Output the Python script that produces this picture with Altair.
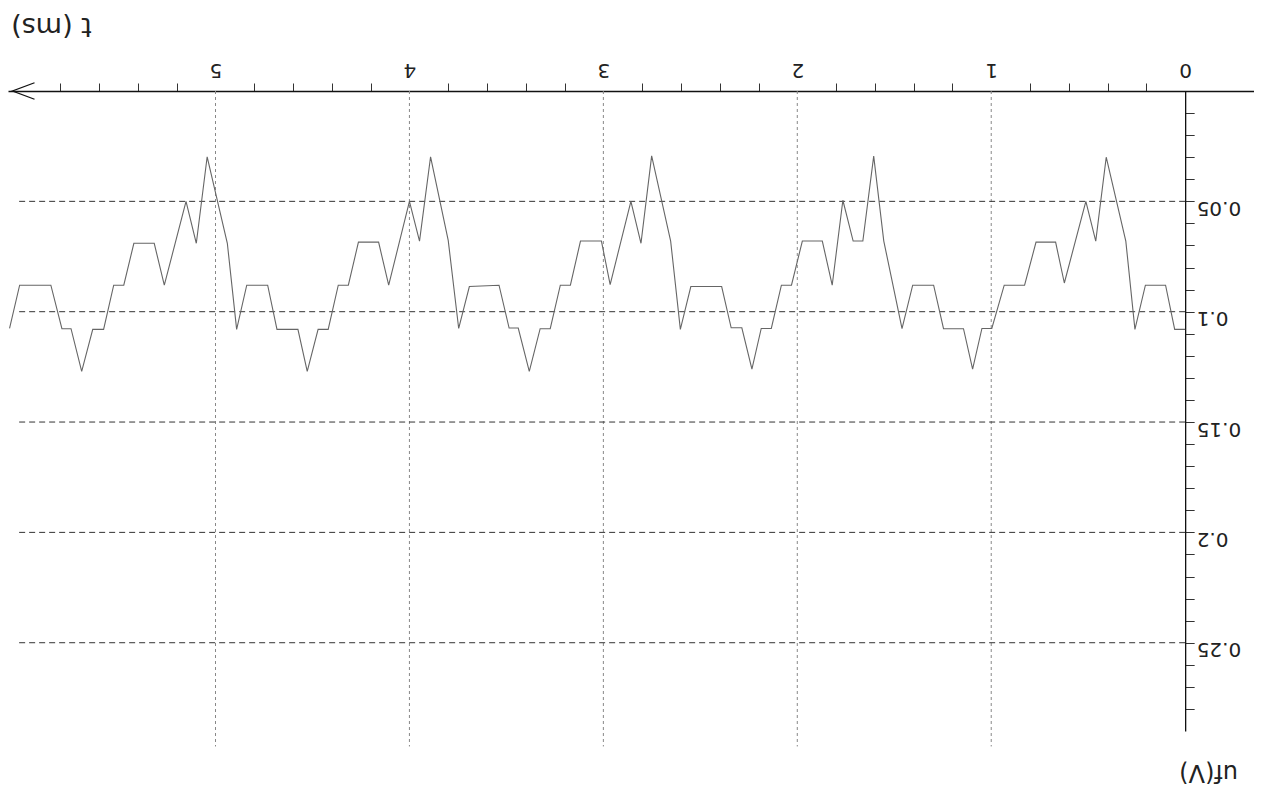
import altair as alt
import pandas as pd

# waveform read from the (upside-down) oscillogram: t in ms, u in V
t_ms = [0.0, 0.054, 0.101, 0.205, 0.259, 0.306, 0.407, 0.461, 0.512, 0.623, 0.668, 0.769, 0.828, 0.933, 0.997, 1.048, 1.096,
        1.143, 1.246, 1.297, 1.405, 1.460, 1.554, 1.606, 1.662, 1.712, 1.765, 1.820, 1.871, 1.974, 2.030, 2.082, 2.134, 2.186, 2.234, 2.286, 2.341,
        2.390, 2.549, 2.603, 2.653, 2.751, 2.806, 2.858, 2.965, 3.010, 3.118, 3.170, 3.222, 3.274, 3.326, 3.382, 3.439, 3.486, 3.538,
        3.691, 3.746, 3.800, 3.891, 3.948, 4.000, 4.107, 4.159, 4.263, 4.315, 4.367, 4.419, 4.471, 4.527, 4.575, 4.683, 4.731, 4.839,
        4.891, 4.939, 5.043, 5.099, 5.152, 5.264, 5.316, 5.421, 5.473, 5.525, 5.577, 5.633, 5.690, 5.745, 5.792, 5.849, 6.010, 6.062]
u_v = [0.108, 0.108, 0.088, 0.088, 0.108, 0.068, 0.030, 0.068, 0.050, 0.087, 0.0685, 0.0685, 0.088, 0.088, 0.1076, 0.1076, 0.126,
       0.1077, 0.1077, 0.088, 0.088, 0.1077, 0.068, 0.0295, 0.068, 0.068, 0.0495, 0.088, 0.068, 0.068, 0.088, 0.088, 0.1076, 0.1076, 0.126, 0.1073, 0.1073,
       0.0886, 0.0886, 0.108, 0.068, 0.0294, 0.069, 0.050, 0.0877, 0.068, 0.068, 0.088, 0.088, 0.1077, 0.1077, 0.127, 0.1074, 0.1074, 0.088,
       0.0886, 0.1076, 0.0677, 0.0298, 0.068, 0.050, 0.088, 0.0685, 0.0685, 0.088, 0.088, 0.108, 0.108, 0.127, 0.108, 0.108, 0.088, 0.088,
       0.108, 0.069, 0.0298, 0.069, 0.050, 0.088, 0.069, 0.069, 0.088, 0.088, 0.108, 0.108, 0.127, 0.1077, 0.1077, 0.088, 0.088, 0.1076]

grid_u = [0.05, 0.1, 0.15, 0.2, 0.25]
grid_t = [1, 2, 3, 4, 5]
hgrid_t_start = [0, 0, 0, 0, 0]
hgrid_t_end = [6.02, 6.02, 6.02, 6.02, 6.02]
vgrid_u_start = [0, 0, 0, 0, 0]
vgrid_u_end = [0.297, 0.297, 0.297, 0.297, 0.297]

x_tick_values = [0, 0.2, 0.4, 0.6, 0.8, 1, 1.2, 1.4, 1.6, 1.8, 2, 2.2, 2.4, 2.6, 2.8,
                 3, 3.2, 3.4, 3.6, 3.8, 4, 4.2, 4.4, 4.6, 4.8, 5, 5.2, 5.4, 5.6, 5.8]
y_tick_values = [0.01, 0.02, 0.03, 0.04, 0.05, 0.06, 0.07, 0.08, 0.09, 0.1, 0.11, 0.12, 0.13, 0.14,
                 0.15, 0.16, 0.17, 0.18, 0.19, 0.2, 0.21, 0.22, 0.23, 0.24, 0.25, 0.26, 0.27, 0.28]
x_domain = [-0.355, 6.07]
y_domain = [0, 0.29]
arrow_t = [5.99]
arrow_u = [0]

W, H = 1246, 640
y_axis_offset = W * (x_domain[1] - 0) / (x_domain[1] - x_domain[0]) - W

FONT = "DejaVu Sans"

wave = pd.DataFrame({"t": t_ms, "u": u_v})
hgrid = pd.DataFrame({"u": grid_u, "t1": hgrid_t_start, "t2": hgrid_t_end})
vgrid = pd.DataFrame({"t": grid_t, "u1": vgrid_u_start, "u2": vgrid_u_end})
arrow = pd.DataFrame({"t": arrow_t, "u": arrow_u})

xs = alt.Scale(domain=x_domain, reverse=True, nice=False, zero=False)
ys = alt.Scale(domain=y_domain, reverse=True, nice=False, zero=False)

x_axis = alt.Axis(
    orient="top", values=x_tick_values,
    labelExpr="datum.value == round(datum.value) ? format(datum.value, 'd') : ''",
    tickSize=8, tickColor="#333", tickWidth=1,
    tickOpacity={"condition": {"test": "datum.value == round(datum.value)", "value": 0}, "value": 1},
    labelAngle=180, labelAlign="center", labelBaseline="top", labelPadding=4,
    labelFontSize=20, labelFont=FONT, labelColor="#222", labelOverlap=False, labelFlush=False,
    domainColor="#111", domainWidth=1.3, grid=False,
    title="t (ms)", titleAngle=180, titleX=43, titleY=-66, titleAlign="center",
    titleBaseline="middle", titleFontSize=27, titleFont=FONT, titleFontWeight="normal",
    titleColor="#222",
)
y_axis = alt.Axis(
    orient="right", offset=y_axis_offset, values=y_tick_values,
    labelExpr="abs(datum.value*20 - round(datum.value*20)) < 0.001 ? format(datum.value, '.2~f') : ''",
    tickSize=9, tickColor="#333", tickWidth=1,
    labelAngle=180, labelAlign="right", labelBaseline="middle", labelOffset=6, labelPadding=2,
    labelFontSize=20, labelFont=FONT, labelColor="#222", labelOverlap=False, labelFlush=False,
    domainColor="#111", domainWidth=1.3, grid=False,
    title="uf(V)", titleAngle=180, titleX=23, titleY=680, titleAlign="center",
    titleBaseline="middle", titleFontSize=24, titleFont=FONT, titleFontWeight="normal",
    titleColor="#222",
)

vrules = alt.Chart(vgrid).mark_rule(color="#888", strokeWidth=1, strokeDash=[3, 3]).encode(
    x=alt.X("t:Q", scale=xs, axis=x_axis),
    y=alt.Y("u1:Q", scale=ys, axis=y_axis), y2="u2:Q",
)
hrules = alt.Chart(hgrid).mark_rule(color="#333", strokeWidth=1, strokeDash=[6, 4]).encode(
    x=alt.X("t1:Q", scale=xs, axis=x_axis), x2="t2:Q",
    y=alt.Y("u:Q", scale=ys, axis=y_axis),
)
line = alt.Chart(wave).mark_line(color="#666", strokeWidth=1.1).encode(
    x=alt.X("t:Q", scale=xs, axis=x_axis),
    y=alt.Y("u:Q", scale=ys, axis=y_axis),
)
arrow_mark = alt.Chart(arrow).mark_point(
    shape="M1,-0.75L-1,0L1,0.75", size=484, filled=False, color="#111", strokeWidth=1.3, opacity=1
).encode(
    x=alt.X("t:Q", scale=xs, axis=x_axis),
    y=alt.Y("u:Q", scale=ys, axis=y_axis),
)

chart = alt.layer(vrules, hrules, line, arrow_mark).properties(
    width=W, height=H,
    autosize=alt.AutoSizeParams(type="none"),
    padding={"left": 0, "right": 0, "top": 83, "bottom": 55},
    background="white",
).configure_view(stroke=None)

chart.save("out.html", embed_options={"renderer": "svg", "actions": False})
